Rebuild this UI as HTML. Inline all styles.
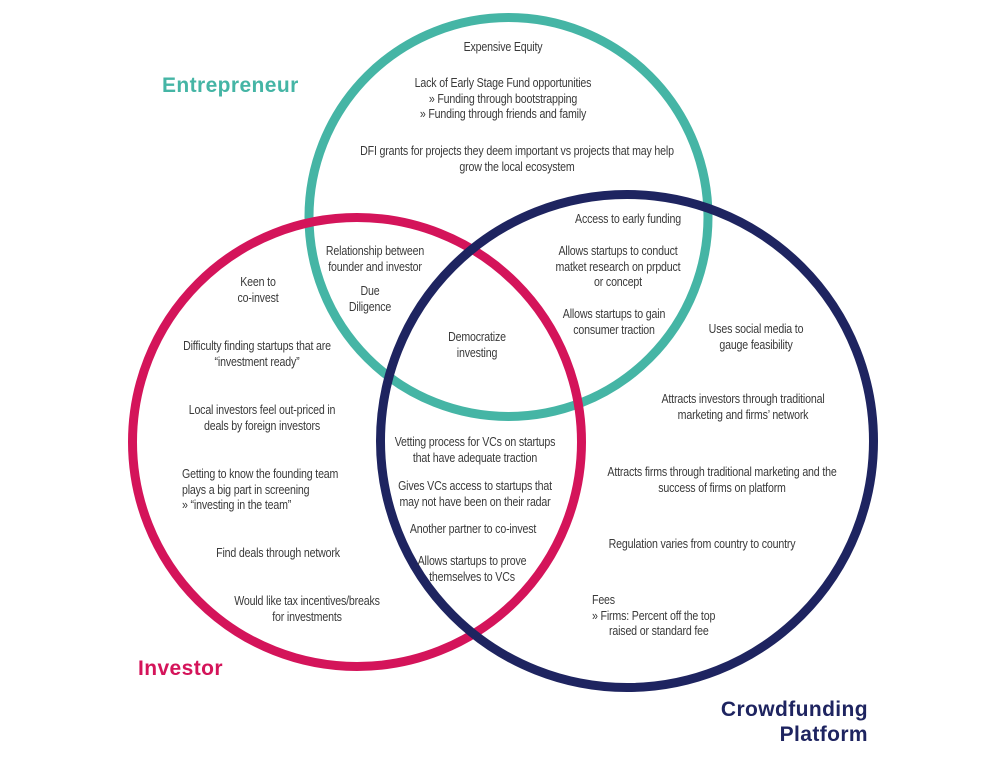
<!DOCTYPE html>
<html><head><meta charset="utf-8"><style>
html,body{margin:0;padding:0;background:#fff;}
#c{position:relative;width:1000px;height:757px;overflow:hidden;font-family:"Liberation Sans",sans-serif;}
.t{position:absolute;font-size:12.5px;line-height:15.6px;color:#3a3a3a;text-align:center;white-space:nowrap;transform:translateX(-50%) scaleX(0.85);letter-spacing:-0.2px;}
.l{position:absolute;font-size:12.5px;line-height:15.6px;color:#3a3a3a;white-space:nowrap;letter-spacing:-0.2px;transform:scaleX(0.85);transform-origin:0 0;}
.h{position:absolute;font-weight:bold;font-size:21px;white-space:nowrap;letter-spacing:0.4px;}
</style></head><body><div id="c">
<svg width="1000" height="757" style="position:absolute;left:0;top:0">
<circle cx="508.5" cy="217" r="199.5" fill="none" stroke="#45b5a5" stroke-width="9"/>
<circle cx="357" cy="442" r="224.5" fill="none" stroke="#d4145a" stroke-width="9"/>
<circle cx="627" cy="441" r="246.5" fill="none" stroke="#1e2460" stroke-width="9"/>
</svg>
<div class="h" style="left:162px;top:74px;color:#45b5a5">Entrepreneur</div>
<div class="h" style="left:138px;top:657px;color:#d4145a">Investor</div>
<div class="h" style="left:668px;width:200px;top:697px;color:#1e2460;text-align:right;line-height:25px">Crowdfunding<br>Platform</div>

<div class="t" style="left:503px;top:40px">Expensive Equity</div>
<div class="t" style="left:503px;top:76px">Lack of Early Stage Fund opportunities<br>» Funding through bootstrapping<br>» Funding through friends and family</div>
<div class="t" style="left:517px;top:144px">DFI grants for projects they deem important vs projects that may help<br>grow the local ecosystem</div>
<div class="t" style="left:628px;top:212px">Access to early funding</div>
<div class="t" style="left:618px;top:244px">Allows startups to conduct<br>matket research on prpduct<br>or concept</div>
<div class="t" style="left:614px;top:307px">Allows startups to gain<br>consumer traction</div>
<div class="t" style="left:375px;top:244px">Relationship between<br>founder and investor</div>
<div class="t" style="left:370px;top:284px">Due<br>Diligence</div>
<div class="t" style="left:477px;top:330px">Democratize<br>investing</div>
<div class="t" style="left:258px;top:275px">Keen to<br>co-invest</div>
<div class="t" style="left:257px;top:339px">Difficulty finding startups that are<br>“investment ready”</div>
<div class="t" style="left:262px;top:403px">Local investors feel out-priced in<br>deals by foreign investors</div>
<div class="l" style="left:182px;top:467px">Getting to know the founding team<br>plays a big part in screening<br>» “investing in the team”</div>
<div class="t" style="left:278px;top:546px">Find deals through network</div>
<div class="t" style="left:307px;top:594px">Would like tax incentives/breaks<br>for investments</div>
<div class="t" style="left:756px;top:322px">Uses social media to<br>gauge feasibility</div>
<div class="t" style="left:743px;top:392px">Attracts investors through traditional<br>marketing and firms’ network</div>
<div class="t" style="left:722px;top:465px">Attracts firms through traditional marketing and the<br>success of firms on platform</div>
<div class="t" style="left:702px;top:537px">Regulation varies from country to country</div>
<div class="l" style="left:592px;top:593px">Fees<br>» Firms: Percent off the top<br><span style="padding-left:20px">raised or standard fee</span></div>
<div class="t" style="left:475px;top:435px">Vetting process for VCs on startups<br>that have adequate traction</div>
<div class="t" style="left:475px;top:479px">Gives VCs access to startups that<br>may not have been on their radar</div>
<div class="t" style="left:473px;top:522px">Another partner to co-invest</div>
<div class="t" style="left:472px;top:554px">Allows startups to prove<br>themselves to VCs</div>
</div></body></html>
